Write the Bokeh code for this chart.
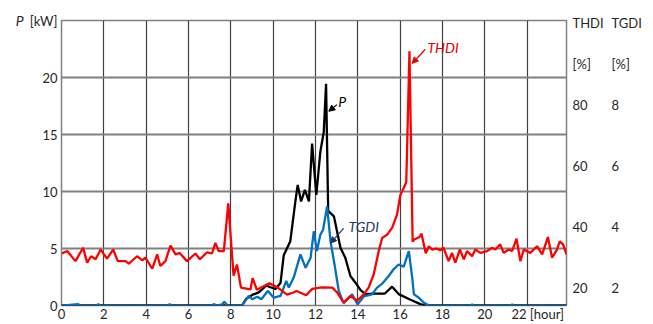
from bokeh.plotting import figure
from bokeh.models import Range1d, LinearAxis, FixedTicker, Label, Arrow, NormalHead
from bokeh.embed import file_html
from bokeh.resources import INLINE

# ---- data ----
p_hours = [0, 8.53, 8.73, 9.03, 9.32, 9.67, 9.87, 10.12, 10.35, 10.50, 10.81, 11.05, 11.16,
           11.32, 11.50, 11.69, 11.84, 12.04, 12.23, 12.39, 12.50, 12.60, 12.87, 13.18, 13.41,
           13.65, 13.89, 14.13, 14.36, 14.75, 15.28, 15.62, 15.93, 16.49, 16.96, 17.21, 23.86]
p_kw = [0, 0, 0.6, 0.95, 1.15, 1.75, 1.6, 1.45, 2.0, 4.4, 5.64, 9.13, 10.58,
        9.13, 10.14, 9.13, 14.2, 9.7, 13.5, 15.2, 19.44, 8.3, 7.82, 5.06, 4.18,
        2.59, 2.0, 1.35, 0.99, 1.05, 1.05, 1.65, 1.0, 0.5, 0.12, 0, 0]

thdi_hours = [0.0, 0.27, 0.66, 1.02, 1.21, 1.40, 1.61, 1.85, 2.15, 2.44, 2.66, 3.03, 3.18,
              3.57, 3.81, 3.97, 4.29, 4.52, 4.67, 4.91, 5.15, 5.39, 5.58, 5.93, 6.33, 6.54,
              6.88, 7.11, 7.27, 7.43, 7.67, 7.88, 8.13, 8.29, 8.48, 8.93, 9.03, 9.23, 9.57,
              9.82, 10.22, 10.66, 10.96, 11.11, 11.56, 11.85, 12.30, 12.80, 13.02, 13.33,
              13.66, 13.97, 14.28, 14.51, 14.75, 14.99, 15.15, 15.39, 15.62, 15.85, 16.01,
              16.17, 16.29, 16.44, 16.59, 16.67, 16.91, 17.01, 17.21, 17.36, 17.51, 17.71,
              17.91, 18.05, 18.29, 18.45, 18.61, 18.82, 19.01, 19.16, 19.40, 19.55, 19.79,
              20.11, 20.35, 20.50, 20.73, 20.89, 21.13, 21.29, 21.50, 21.68, 21.84, 22.15,
              22.47, 22.71, 22.98, 23.18, 23.41, 23.54, 23.70, 23.86]
thdi_pct = [31.2, 32.0, 28.7, 33.1, 28.2, 30.3, 29.3, 32.5, 29.5, 32.5, 28.7, 28.7, 27.9,
            30.3, 29.0, 29.8, 26.2, 30.9, 27.1, 28.7, 33.8, 30.9, 31.4, 28.7, 31.2, 29.3,
            31.6, 31.2, 34.7, 32.0, 32.0, 47.7, 23.9, 27.6, 20.0, 19.4, 23.1, 19.3, 20.5,
            21.4, 20.0, 17.7, 18.4, 18.9, 17.5, 19.6, 20.1, 20.0, 18.4, 15.1,
            17.3, 15.7, 17.8, 20.0, 24.3, 32.0, 36.3, 37.4, 39.6, 43.9, 50.4,
            52.7, 54.6, 97.6, 35.1, 35.8, 36.6, 37.7, 31.3, 33.6, 32.5, 32.8,
            32.3, 33.1, 28.7, 31.4, 28.2, 32.5, 29.3, 32.0, 30.3, 32.5, 31.4,
            32.0, 33.1, 32.5, 34.2, 31.4, 32.5, 32.0, 36.1, 28.7, 32.5, 31.4,
            33.6, 30.9, 36.6, 29.8, 32.5, 35.2, 34.2, 30.9]

tgdi_hours = [0, 0.79, 0.89, 1.64, 1.74, 1.84, 5.01, 5.11, 5.21, 7.09, 7.19, 7.34, 7.59,
              7.69, 7.84, 8.53, 8.69, 8.85, 9.01, 9.25, 9.44, 9.75, 10.03, 10.35, 10.62,
              10.74, 10.97, 11.29, 11.53, 11.77, 11.92, 12.07, 12.23, 12.36, 12.55, 12.71,
              12.90, 13.10, 13.33, 13.49, 13.73, 13.99, 14.28, 14.67, 14.91, 15.15, 15.47,
              15.70, 15.93, 16.17, 16.41, 16.57, 16.65, 16.88, 17.11, 17.36, 19.3, 19.4,
              19.5, 21.2, 21.3, 21.4, 23.86]
tgdi_pct = [1.41, 1.46, 1.41, 1.41, 1.46, 1.41, 1.41, 1.46, 1.41, 1.41, 1.46, 1.41, 1.45,
            1.54, 1.41, 1.41, 1.57, 1.73, 1.62, 1.70, 1.62, 1.89, 1.67, 1.73, 2.22,
            2.00, 2.33, 3.09, 2.65, 2.98, 3.85, 3.20, 3.74, 3.90, 4.67, 3.52,
            2.76, 1.89, 1.49, 1.60, 1.78, 1.45, 1.71, 1.78, 2.00, 2.13, 2.39,
            2.61, 2.76, 2.69, 3.20, 2.33, 1.78, 1.67, 1.51, 1.41, 1.41, 1.45,
            1.41, 1.41, 1.45, 1.41, 1.41]

x_tick_values = [0, 2, 4, 6, 8, 10, 12, 14, 16, 18, 20, 22.5]
x_tick_labels = ["0", "2", "4", "6", "8", "10", "12", "14", "16", "18", "20", "22 [hour]"]
x_grid_values = [2, 4, 6, 8, 10, 12, 14, 16, 18, 20, 22]
p_ticks = [0, 5, 10, 15, 20, 25]
p_labels = ["0", "5", "10", "15", "20", "[kW]"]
thdi_ticks = [20, 40, 60, 80, 93.4, 106.9]
thdi_labels = ["20", "40", "60", "80", "[%]", "THDI"]
tgdi_ticks = [2, 4, 6, 8, 9.34, 10.69]
tgdi_labels = ["2", "4", "6", "8", "[%]", "TGDI"]

FONT = "Lato"
TXT = "#262626"

p = figure(width=653, height=324, x_range=Range1d(0, 23.86), y_range=Range1d(0, 25),
           output_backend="svg", toolbar_location=None,
           min_border_left=61, min_border_right=87, min_border_top=20, min_border_bottom=16)
p.extra_y_ranges = {"thdi": Range1d(14.13, 107.7), "tgdi": Range1d(1.413, 10.77)}
p.background_fill_color = "white"
p.border_fill_color = "white"
p.outline_line_color = "#808080"
p.outline_line_width = 1.5

def style_axis(ax, standoff, size="13px", style="normal"):
    ax.axis_line_color = None
    ax.major_tick_line_color = None
    ax.minor_tick_line_color = None
    ax.major_tick_out = 0
    ax.major_tick_in = 0
    ax.minor_tick_out = 0
    ax.minor_tick_in = 0
    ax.major_label_text_font = FONT
    ax.major_label_text_font_size = size
    ax.major_label_text_font_style = style
    ax.major_label_text_color = TXT
    ax.major_label_standoff = standoff

p.xaxis.ticker = FixedTicker(ticks=x_tick_values)
p.xaxis.major_label_overrides = dict(zip(x_tick_values, x_tick_labels))
style_axis(p.xaxis[0], 0)

p.yaxis.ticker = FixedTicker(ticks=p_ticks)
p.yaxis.major_label_overrides = dict(zip(p_ticks, p_labels))
style_axis(p.yaxis[0], 4)
ax_p = LinearAxis(ticker=FixedTicker(ticks=[25]), major_label_overrides={25: "P"})
style_axis(ax_p, 3, size="14px", style="italic")
p.add_layout(ax_p, "left")

ax_thdi = LinearAxis(y_range_name="thdi", ticker=FixedTicker(ticks=thdi_ticks),
                     major_label_overrides=dict(zip(thdi_ticks, thdi_labels)))
style_axis(ax_thdi, 6)
p.add_layout(ax_thdi, "right")
ax_tgdi = LinearAxis(y_range_name="tgdi", ticker=FixedTicker(ticks=tgdi_ticks),
                     major_label_overrides=dict(zip(tgdi_ticks, tgdi_labels)))
style_axis(ax_tgdi, 5)
p.add_layout(ax_tgdi, "right")

# grid
p.xgrid.ticker = FixedTicker(ticks=x_grid_values)
p.xgrid.grid_line_color = "#404040"
p.xgrid.grid_line_width = 1.2
p.ygrid.ticker = FixedTicker(ticks=[5, 10, 15, 20])
p.ygrid.grid_line_color = "#808080"
p.ygrid.grid_line_width = 2

# series
p.line(p_hours, p_kw, color="black", line_width=2.3)
p.line(tgdi_hours, tgdi_pct, y_range_name="tgdi", color="#0070c0", line_width=2.3)
p.line(thdi_hours, thdi_pct, y_range_name="thdi", color="#ff0000", line_width=2.3)

# in-plot annotations
def lab(x, y, text, color):
    p.add_layout(Label(x=x, y=y, text=text, text_font=FONT, text_font_size="14px",
                       text_color=color, text_font_style="italic",
                       text_align="left", text_baseline="middle"))

lab(13.08, 17.88, "P", "black")
lab(13.56, 6.94, "TGDI", "#1f3864")
lab(17.29, 22.66, "THDI", "#e00000")

for (xs, ys, xe, ye, c) in [(13.02, 17.62, 12.63, 17.04, "black"),
                            (13.33, 6.77, 12.71, 5.47, "#1f3864"),
                            (17.19, 22.48, 16.57, 21.24, "#e00000")]:
    p.add_layout(Arrow(end=NormalHead(size=6, fill_color=c, line_color=c),
                       x_start=xs, y_start=ys, x_end=xe, y_end=ye,
                       line_color=c, line_width=1.2))

open("out.html", "w").write(file_html(p, INLINE))
